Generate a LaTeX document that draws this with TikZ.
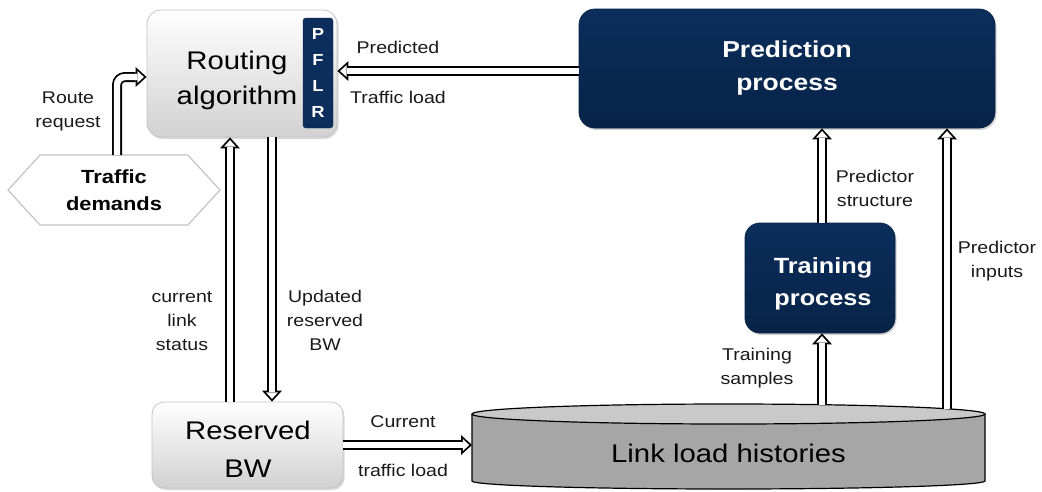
\documentclass[tikz,border=0pt]{standalone}
\usepackage{fontspec}
\setmainfont[FakeStretch=1.15]{Liberation Sans}
\usetikzlibrary{arrows.meta,shadows,shapes.symbols}

\definecolor{navy}{HTML}{0B2E5C}
\definecolor{navydark}{HTML}{072347}
\definecolor{boxedge}{HTML}{C4C4C4}
\definecolor{cylbody}{HTML}{A6A6A6}
\definecolor{cyltop}{HTML}{C9C9C9}
\definecolor{labeltext}{HTML}{1A1A1A}

\tikzset{
  lightbox/.style={rounded corners=14pt, draw=boxedge, line width=0.8pt,
    top color=white, bottom color=black!18,
    drop shadow={shadow xshift=1.5pt, shadow yshift=-2pt, opacity=0.3}},
  darkbox/.style={rounded corners=16pt, draw=navydark, line width=0.8pt,
    top color=navy, bottom color=navydark, text=white,
    font=\bfseries\fontsize{23}{33}\selectfont, align=center,
    drop shadow={shadow xshift=1.5pt, shadow yshift=-2pt, opacity=0.35}},
  bigtext/.style={align=center, font=\fontsize{25.5}{35}\selectfont},
  lbl/.style={align=center, text=labeltext, font=\fontsize{17}{24}\selectfont},
  blockarrow/.style={line width=10pt, draw=black,
    -{Triangle[length=11pt,width=20pt,line width=0pt]},
    postaction={draw=white, line width=6.4pt, shorten >=2.7pt,
      -{Triangle[length=6.5pt,width=11.9pt,line width=0pt]}}},
}

\begin{document}
\begin{tikzpicture}[x=1pt,y=-1pt]
\useasboundingbox (0,0) rectangle (1042,491);

% Routing algorithm with its PFLR bar
\node[lightbox, minimum width=190pt, minimum height=127pt] (ra) at (242,73.5) {};
\node[bigtext] (ratext) at (237,80) {Routing\\algorithm};
\node[fill=navy, draw=navydark, rounded corners=3pt, minimum width=30pt,
      minimum height=110pt, inner sep=0pt, text=white, align=center,
      font=\bfseries\fontsize{16}{26}\selectfont] (pflr) at (318,73) {P\\F\\L\\R};

% Traffic demands
\node[signal, signal to=west and east, signal pointer angle=95,
      draw=boxedge, line width=1.2pt, fill=white,
      minimum width=212pt, minimum height=70pt, inner sep=0pt,
      align=center, font=\bfseries\fontsize{19}{27}\selectfont] (td) at (114,190)
      {Traffic\\demands};

% Prediction and training processes
\node[darkbox, minimum width=416pt, minimum height=119pt] (pp) at (787,68.5)
      {Prediction\\process};
\node[darkbox, rounded corners=15pt, minimum width=150pt, minimum height=110pt,
      font=\bfseries\fontsize{22}{32}\selectfont] (tp) at (820,278) {};
\node[text=white, align=center, font=\bfseries\fontsize{22}{32}\selectfont]
      (tptext) at (823,284) {Training\\process};

% Reserved BW
\node[lightbox, rounded corners=12pt, minimum width=191pt, minimum height=86pt]
      (rbw) at (247.5,445) {};
\node[bigtext, font=\fontsize{25.5}{38}\selectfont] (rbwtext) at (248,449)
      {Reserved\\BW};

% Link load histories (cylinder)
\fill[cylbody] (472,414) -- (472,481) arc[start angle=180, end angle=360,
      x radius=256.5, y radius=-8] -- (985,414) -- cycle;
\draw[line width=1.2pt] (472,414) -- (472,481) arc[start angle=180, end angle=360,
      x radius=256.5, y radius=-8] -- (985,414);
\draw[line width=1.2pt, fill=cyltop] (728.5,414) ellipse[x radius=256.5, y radius=10];
\node[bigtext] (llh) at (728.5,453) {Link load histories};
\coordinate (cylA) at (822,405);
\coordinate (cylB) at (947,409);

% Connectors
\coordinate (rrstart) at (117,155);
\draw[blockarrow, rounded corners=8pt] (rrstart) |- (ra.west |- 0,77);
\draw[blockarrow] (pp.west |- 0,71) -- (ra.east |- 0,71);
\draw[blockarrow] (rbw.north -| 230,0) -- (ra.south -| 230,0);
\draw[blockarrow] (ra.south -| 272,0) -- (rbw.north -| 272,0);
\draw[blockarrow] (rbw.east |- 0,445) -- (472,445);
\draw[blockarrow] (tp.north -| 822,0) -- (pp.south -| 822,0);
\draw[blockarrow] (cylA) -- (tp.south -| 822,0);
\draw[blockarrow] (cylB) -- (pp.south -| 947,0);

% Connector labels
\node[lbl] (lrr) at (68,111) {Route\\request};
\node[lbl] (lpred) at (398,47) {Predicted};
\node[lbl] (ltl) at (398,97) {Traffic load};
\node[lbl] (lcls) at (182,321) {current\\link\\status};
\node[lbl] (lurb) at (325,320) {Updated\\reserved\\BW};
\node[lbl] (lcur) at (403,422) {Current};
\node[lbl] (lctl) at (403,470) {traffic load};
\node[lbl] (lps) at (875,188) {Predictor\\structure};
\node[lbl] (lpi) at (997,261) {Predictor\\inputs};
\node[lbl] (lts) at (757,368) {Training\\samples};
\end{tikzpicture}
\end{document}
